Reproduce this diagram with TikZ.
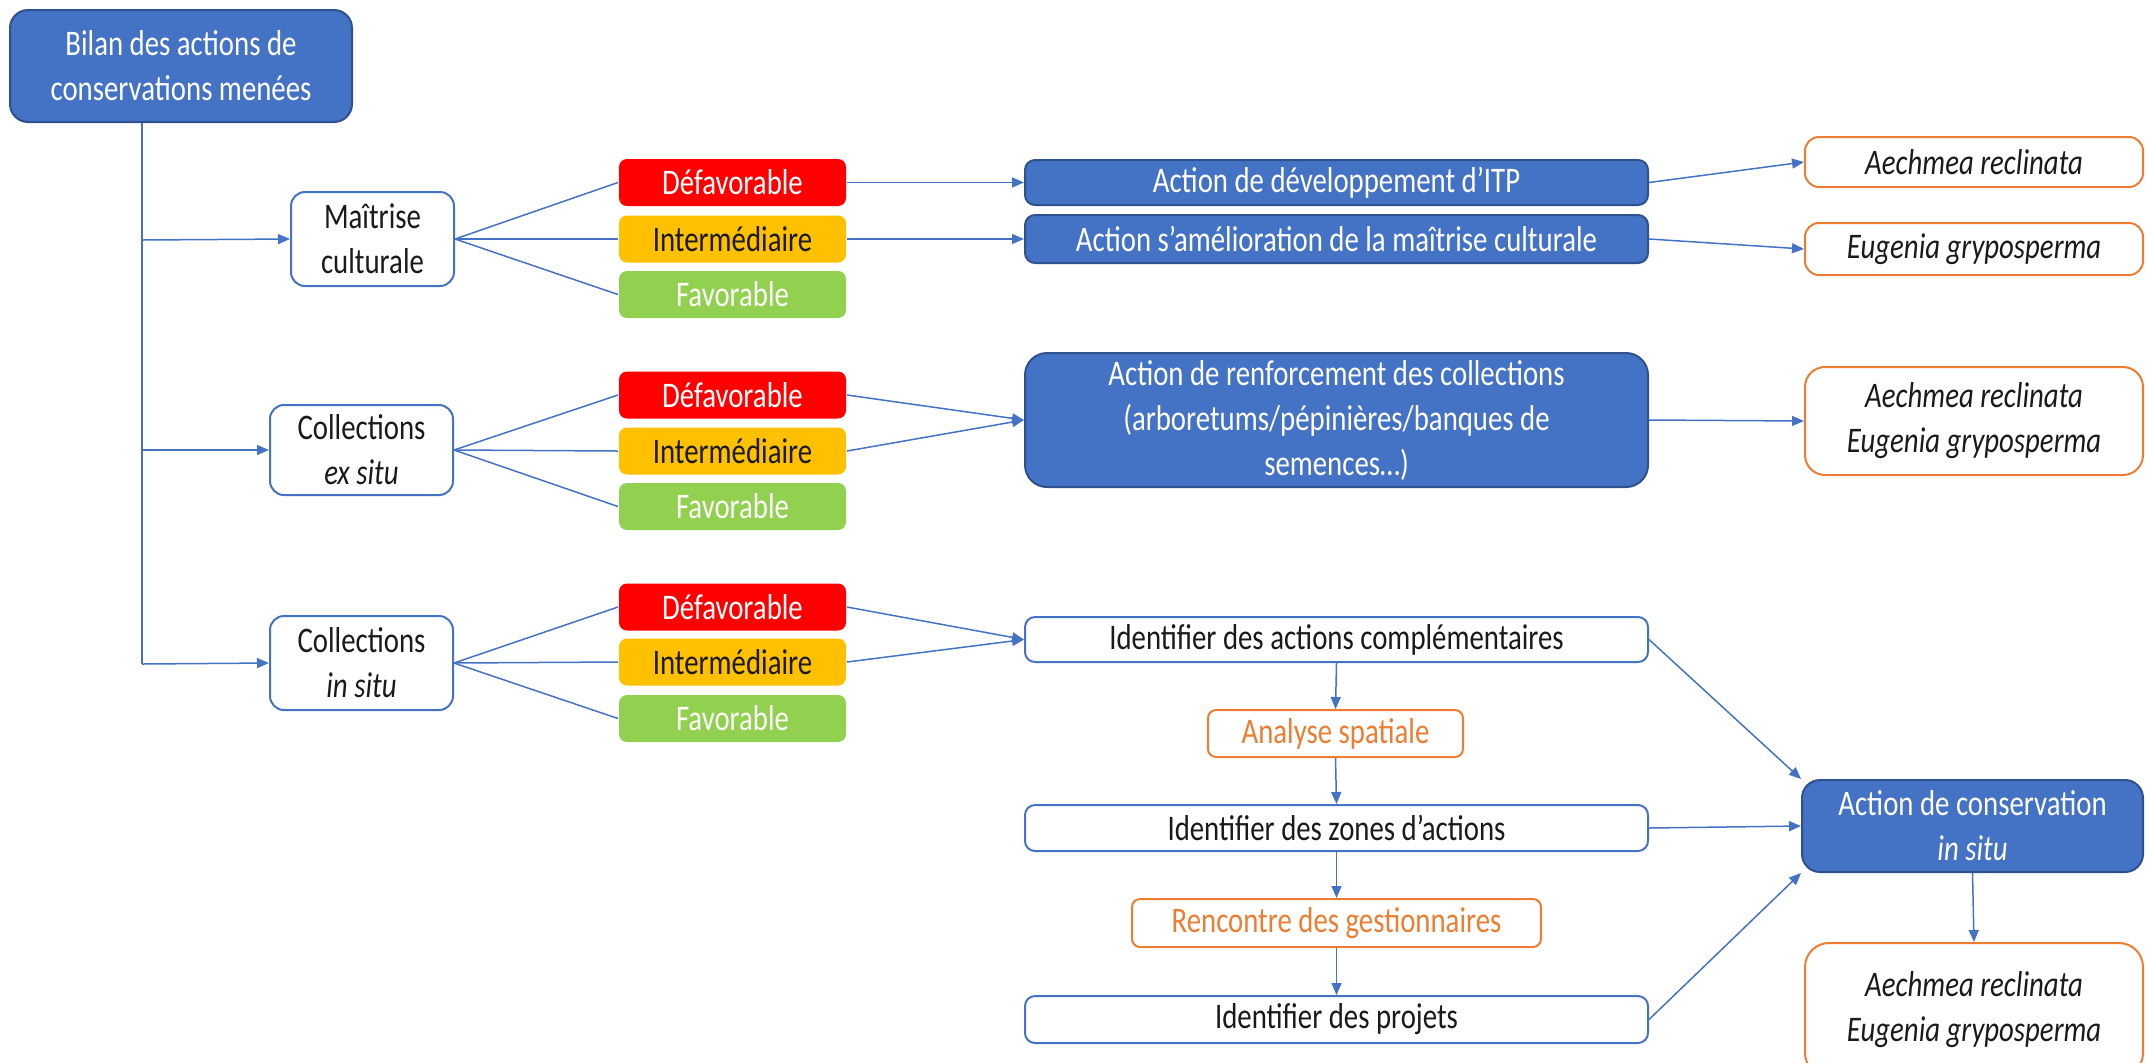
\documentclass[tikz,border=0pt]{standalone}
\usepackage{fontspec}
\setmainfont{Carlito}[FakeStretch=0.8]
\usetikzlibrary{arrows.meta}
\definecolor{bl}{HTML}{4472C4}
\definecolor{bld}{HTML}{2F528F}
\definecolor{org}{HTML}{ED7D31}
\definecolor{rd}{HTML}{FF0000}
\definecolor{yl}{HTML}{FFC000}
\definecolor{gr}{HTML}{92D050}
\definecolor{txt}{HTML}{1A1A1A}
\begin{document}
\begin{tikzpicture}[x=0.5pt,y=-0.5pt,
 base/.style={rectangle, inner sep=0pt, align=center, font=\fontsize{18}{22.5}\selectfont, line width=1pt},
 sz/.style n args={2}{minimum width={#1*0.5pt}, minimum height={#2*0.5pt}},
 bluebox/.style={base, fill=bl, draw=bld, text=white},
 wbox/.style={base, fill=white, draw=bl, text=txt},
 obox/.style={base, fill=white, draw=org, text=txt},
 otext/.style={base, fill=white, draw=org, text=org, rounded corners=4pt},
 cbox/.style={base, sz={227}{47}, rounded corners=4pt},
 dbox/.style={cbox, fill=rd, text=white},
 ibox/.style={cbox, fill=yl, text=txt},
 fbox/.style={cbox, fill=gr, text=white},
 con/.style={draw=bl, line width=0.75pt},
 arr/.style={con, -{Triangle[length=6pt,width=5pt]}},
]
\useasboundingbox (0,0) rectangle (2146,1062);

% left column
\node[bluebox, sz={342}{112}, rounded corners=9pt] (bilan) at (181,66) {Bilan des actions de\\conservations menées};
\node[wbox, sz={163}{94}, rounded corners=7pt] (mait) at (372.5,239) {Maîtrise\\culturale};
\node[wbox, sz={183}{90}, rounded corners=7pt] (exs) at (361.5,450) {Collections\\\textit{ex situ}};
\node[wbox, sz={183}{94}, rounded corners=7pt] (ins) at (361.5,663) {Collections\\\textit{in situ}};

\coordinate (t0) at (142,122);
\coordinate (t1) at (142,240);
\coordinate (t2) at (142,450);
\coordinate (t3) at (142,664);
\draw[con] (bilan.south -| t0) -- (t3);
\draw[arr] (t1) -- (mait.west);
\draw[arr] (t2) -- (exs.west);
\draw[arr] (t3) -- (ins.west);

% colored boxes
\node[dbox] (d1) at (732.5,182.5) {Défavorable};
\node[ibox] (i1) at (732.5,239) {Intermédiaire};
\node[fbox] (f1) at (732.5,294.5) {Favorable};
\node[dbox] (d2) at (732.5,395) {Défavorable};
\node[ibox] (i2) at (732.5,451) {Intermédiaire};
\node[fbox] (f2) at (732.5,506.5) {Favorable};
\node[dbox] (d3) at (732.5,607) {Défavorable};
\node[ibox] (i3) at (732.5,662) {Intermédiaire};
\node[fbox] (f3) at (732.5,718.5) {Favorable};

\foreach \p/\a/\b/\c in {mait/d1/i1/f1, exs/d2/i2/f2, ins/d3/i3/f3}{
  \draw[con] (\p.east) -- (\a.west);
  \draw[con] (\p.east) -- (\b.west);
  \draw[con] (\p.east) -- (\c.west);
}

% action boxes
\node[bluebox, sz={623}{45}, rounded corners=5pt] (itp) at (1336.5,182.5) {Action de développement d’ITP};
\node[bluebox, sz={623}{48}, rounded corners=5pt] (ame) at (1336.5,239) {Action s’amélioration de la maîtrise culturale};
\node[bluebox, sz={623}{134}, rounded corners=11pt] (renf) at (1336.5,420) {Action de renforcement des collections\\(arboretums/pépinières/banques de\\semences…)};
\node[wbox, sz={623}{45}, rounded corners=5pt] (comp) at (1336.5,639.5) {Identifier des actions complémentaires};
\node[otext, sz={255}{47}] (ana) at (1335.5,733.5) {Analyse spatiale};
\node[wbox, sz={623}{46}, rounded corners=5pt] (zon) at (1336.5,828) {Identifier des zones d’actions};
\node[otext, sz={409}{48}] (ren) at (1336.5,923) {Rencontre des gestionnaires};
\node[wbox, sz={623}{47}, rounded corners=5pt] (proj) at (1336.5,1019.5) {Identifier des projets};

\draw[arr] (d1.east) -- (itp.west);
\draw[arr] (i1.east) -- (ame.west);
\draw[arr] (d2.east) -- (renf.west);
\draw[arr] (i2.east) -- (renf.west);
\draw[arr] (d3.east) -- (comp.west);
\draw[arr] (i3.east) -- (comp.west);
\draw[arr] (comp.south) -- (ana.north);
\draw[arr] (ana.south) -- (zon.north);
\draw[arr] (zon.south) -- (ren.north);
\draw[arr] (ren.south) -- (proj.north);

% species and conservation
\node[obox, sz={338}{50}, rounded corners=7pt] (sp1) at (1974,162) {\textit{Aechmea reclinata}};
\node[obox, sz={338}{52}, rounded corners=7pt] (sp2) at (1974,249) {\textit{Eugenia gryposperma}};
\node[obox, sz={338}{108}, rounded corners=10pt] (sp3) at (1974,421) {\textit{Aechmea reclinata}\\\textit{Eugenia gryposperma}};
\node[bluebox, sz={341}{92}, rounded corners=9pt] (cons) at (1972.5,826) {Action de conservation\\\textit{in situ}};
\node[obox, sz={338}{134}, rounded corners=12pt] (sp4) at (1974,1010) {\textit{Aechmea reclinata}\\\textit{Eugenia gryposperma}};

\draw[arr] (itp.east) -- (sp1.west);
\draw[arr] (ame.east) -- (sp2.west);
\draw[arr] (renf.east) -- (sp3.west);
\draw[arr] (comp.east) -- (cons.north west);
\draw[arr] (zon.east) -- (cons.west);
\draw[arr] (proj.east) -- (cons.south west);
\draw[arr] (cons.south) -- (sp4.north);
\end{tikzpicture}
\end{document}
